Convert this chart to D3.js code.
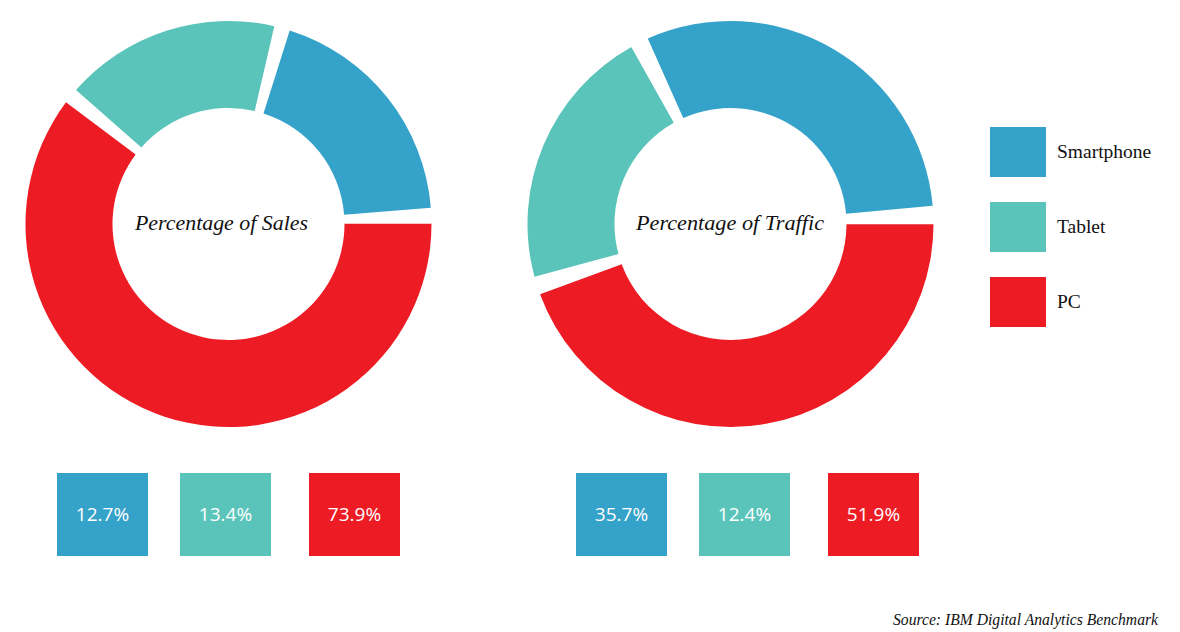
<!DOCTYPE html>
<html>
<head>
<meta charset="utf-8">
<script src="https://cdn.jsdelivr.net/npm/d3@7"></script>
<style>
  html, body { margin: 0; padding: 0; background: #fff; }
  svg { display: block; }
</style>
</head>
<body>
<svg id="chart" width="1180" height="632"></svg>
<script>
// ---------- data ----------
const categories = ["Smartphone", "Tablet", "PC"];
const colors = ["#35a2c9", "#5bc4ba", "#ed1c24"];
// values printed in the boxes under each donut
const salesLabels = ["12.7%", "13.4%", "73.9%"];
const trafficLabels = ["35.7%", "12.4%", "51.9%"];
// share of the ring each slice actually occupies in the picture (percent)
const salesArcShares = [20.1, 18.4, 61.5];
const trafficArcShares = [31.7, 22.5, 45.8];
// clockwise order of slices around the ring
const arcOrder = ["Smartphone", "PC", "Tablet"];
const chartTitles = ["Percentage of Sales", "Percentage of Traffic"];
const sourceText = "Source: IBM Digital Analytics Benchmark";

// ---------- layout ----------
const svg = d3.select("#chart");
const deg = Math.PI / 180;
const outerR = 203, innerR = 116;

const charts = [
  { title: chartTitles[0], shares: salesArcShares, labels: salesLabels,
    cx: 228.5, cy: 224, start: 15.3, gap: 4.5, titleX: 221.5, titleW: 173, boxX0: 57 },
  { title: chartTitles[1], shares: trafficArcShares, labels: trafficLabels,
    cx: 730.5, cy: 224, start: -26.65, gap: 5.2, titleX: 730, titleW: 188, boxX0: 576 }
];

const color = d3.scaleOrdinal().domain(categories).range(colors);
const arc = d3.arc().innerRadius(innerR).outerRadius(outerR);

charts.forEach(c => {
  const rows = categories.map((cat, i) => ({ cat, share: c.shares[i], label: c.labels[i] }));
  const pie = d3.pie()
    .value(d => d.share)
    .sort((a, b) => arcOrder.indexOf(a.cat) - arcOrder.indexOf(b.cat))
    .startAngle(c.start * deg)
    .endAngle(c.start * deg + 2 * Math.PI);

  const g = svg.append("g").attr("transform", `translate(${c.cx},${c.cy})`);
  g.selectAll("path")
    .data(pie(rows))
    .join("path")
    .attr("fill", d => color(d.data.cat))
    .attr("d", d => arc({
      startAngle: d.startAngle + c.gap * deg / 2,
      endAngle: d.endAngle - c.gap * deg / 2
    }));

  svg.append("text")
    .attr("x", c.titleX)
    .attr("y", 229.5)
    .attr("text-anchor", "middle")
    .attr("font-family", "'Liberation Serif', 'DejaVu Serif', serif")
    .attr("font-style", "italic")
    .attr("font-size", 21)
    .attr("fill", "#111")
    .attr("textLength", c.titleW)
    .attr("lengthAdjust", "spacingAndGlyphs")
    .text(c.title);

  // value boxes
  const bw = 91, bh = 83, by = 473;
  const boxX = d3.scalePoint().domain(categories).range([c.boxX0, c.boxX0 + 252]);
  const boxes = svg.append("g").selectAll("g")
    .data(rows)
    .join("g")
    .attr("transform", d => `translate(${boxX(d.cat) - (d.cat === "Tablet" ? 3 : 0)},${by})`);
  boxes.append("rect")
    .attr("width", bw).attr("height", bh)
    .attr("fill", d => color(d.cat));
  boxes.append("text")
    .attr("x", bw / 2)
    .attr("y", bh / 2 + 6.8)
    .attr("text-anchor", "middle")
    .attr("font-family", "'Open Sans', 'Noto Sans', sans-serif")
    .attr("font-size", 19)
    .attr("fill", "#fff")
    .text(d => d.label);
});

// ---------- legend ----------
const ly = d3.scaleBand().domain(categories).range([127, 327]).paddingInner(1 / 3);
const leg = svg.append("g").selectAll("g")
  .data(categories)
  .join("g")
  .attr("transform", d => `translate(990,${ly(d)})`);
leg.append("rect")
  .attr("width", 56)
  .attr("height", ly.bandwidth())
  .attr("fill", d => color(d));
leg.append("text")
  .attr("x", 67)
  .attr("y", ly.bandwidth() / 2 + 5.5)
  .attr("font-family", "'Liberation Serif', 'DejaVu Serif', serif")
  .attr("font-size", 19.5)
  .attr("fill", "#111")
  .text(d => d);

// ---------- source ----------
svg.append("text")
  .attr("x", 1158)
  .attr("y", 625)
  .attr("text-anchor", "end")
  .attr("font-family", "'Liberation Serif', 'DejaVu Serif', serif")
  .attr("font-style", "italic")
  .attr("font-size", 16)
  .attr("fill", "#111")
  .attr("textLength", 265)
  .attr("lengthAdjust", "spacingAndGlyphs")
  .text(sourceText);
</script>
</body>
</html>
